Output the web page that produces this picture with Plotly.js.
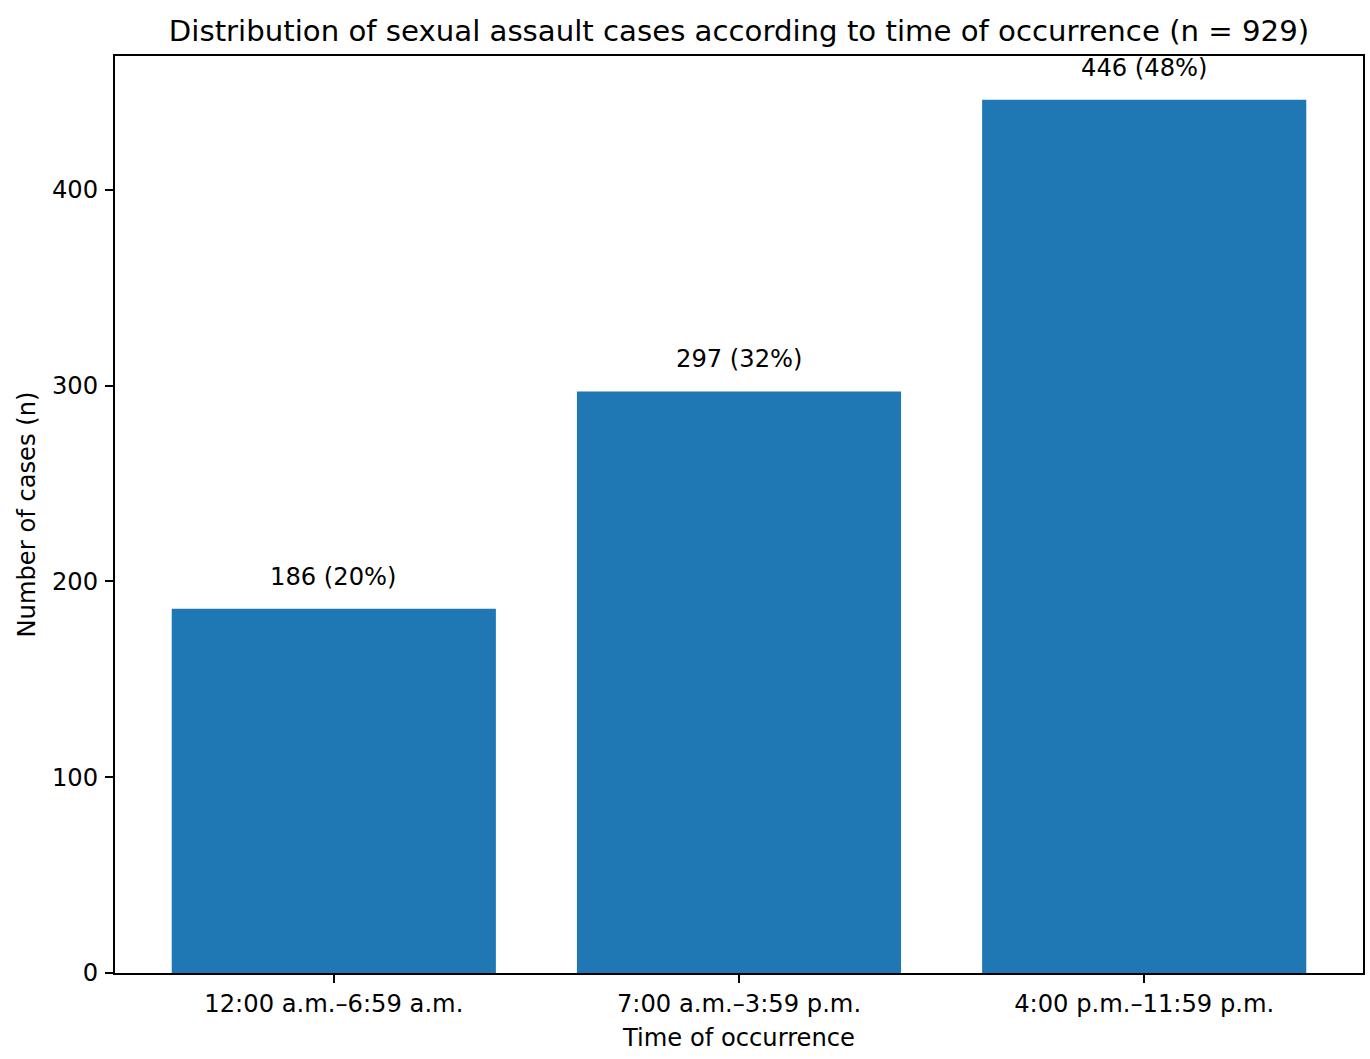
<!DOCTYPE html>
<html>
<head>
<meta charset="utf-8">
<script src="https://cdn.plot.ly/plotly-3.0.1.min.js"></script>
<style>
  html, body { margin: 0; padding: 0; background: #fff; }
  #chart { width: 1370px; height: 1059px; }
</style>
</head>
<body>
<div id="chart"></div>
<script>
// Time-of-occurrence categories and case counts (n = 929)
const timeSlots = ['12:00 a.m.–6:59 a.m.', '7:00 a.m.–3:59 p.m.', '4:00 p.m.–11:59 p.m.'];
const caseCounts = [186, 297, 446];
const casePercents = [20, 32, 48];

const barColor = '#1f77b4';
const fontFamily = '"DejaVu Sans", Verdana, sans-serif';
const baseSize = 24.2;

const trace = {
    x: timeSlots,
    y: caseCounts,
    type: 'bar',
    width: 0.8,
    marker: { color: barColor, line: { width: 0 } },
    hovertemplate: '%{x}<br>%{y} cases<extra></extra>'
};

// Value labels above each bar
const annotations = timeSlots.map((slot, i) => ({
    x: slot,
    y: caseCounts[i],
    xref: 'x',
    yref: 'y',
    text: `${caseCounts[i]} (${casePercents[i]}%)`,
    showarrow: false,
    yanchor: 'bottom',
    yshift: 16,
    font: { family: fontFamily, size: baseSize, color: '#000' }
}));

const layout = {
    width: 1370,
    height: 1059,
    plot_bgcolor: '#ffffff',
    paper_bgcolor: '#ffffff',
    font: { family: fontFamily, size: baseSize, color: '#000' },
    margin: { l: 115, r: 7, t: 56, b: 86, pad: 0 },
    showlegend: false,
    bargap: 0.2,
    title: {
        text: 'Distribution of sexual assault cases according to time of occurrence (n = 929)',
        font: { family: fontFamily, size: 29.2, color: '#000' },
        xref: 'paper',
        x: 0.5,
        xanchor: 'center',
        yref: 'container',
        y: 1 - 31 / 1059,
        yanchor: 'middle'
    },
    xaxis: {
        type: 'category',
        range: [-0.54, 2.54],
        showgrid: false,
        zeroline: false,
        showline: true,
        linecolor: '#000',
        linewidth: 2,
        mirror: true,
        ticks: 'outside',
        ticklen: 8,
        tickwidth: 2,
        tickcolor: '#000',
        tickfont: { family: fontFamily, size: baseSize, color: '#000' },
        title: {
            text: 'Time of occurrence',
            font: { family: fontFamily, size: baseSize, color: '#000' },
            standoff: 12
        }
    },
    yaxis: {
        range: [0, 468.3],
        tickvals: [0, 100, 200, 300, 400],
        showgrid: false,
        zeroline: false,
        showline: true,
        linecolor: '#000',
        linewidth: 2,
        mirror: true,
        ticks: 'outside',
        ticklen: 8,
        ticklabelstandoff: 2,
        tickwidth: 2,
        tickcolor: '#000',
        tickfont: { family: fontFamily, size: baseSize, color: '#000' },
        title: {
            text: 'Number of cases (n)',
            font: { family: fontFamily, size: baseSize, color: '#000' },
            standoff: 10
        }
    },
    annotations: annotations
};

const config = {
    responsive: false,
    displayModeBar: false,
    displaylogo: false
};

Plotly.newPlot('chart', [trace], layout, config);
</script>
</body>
</html>
